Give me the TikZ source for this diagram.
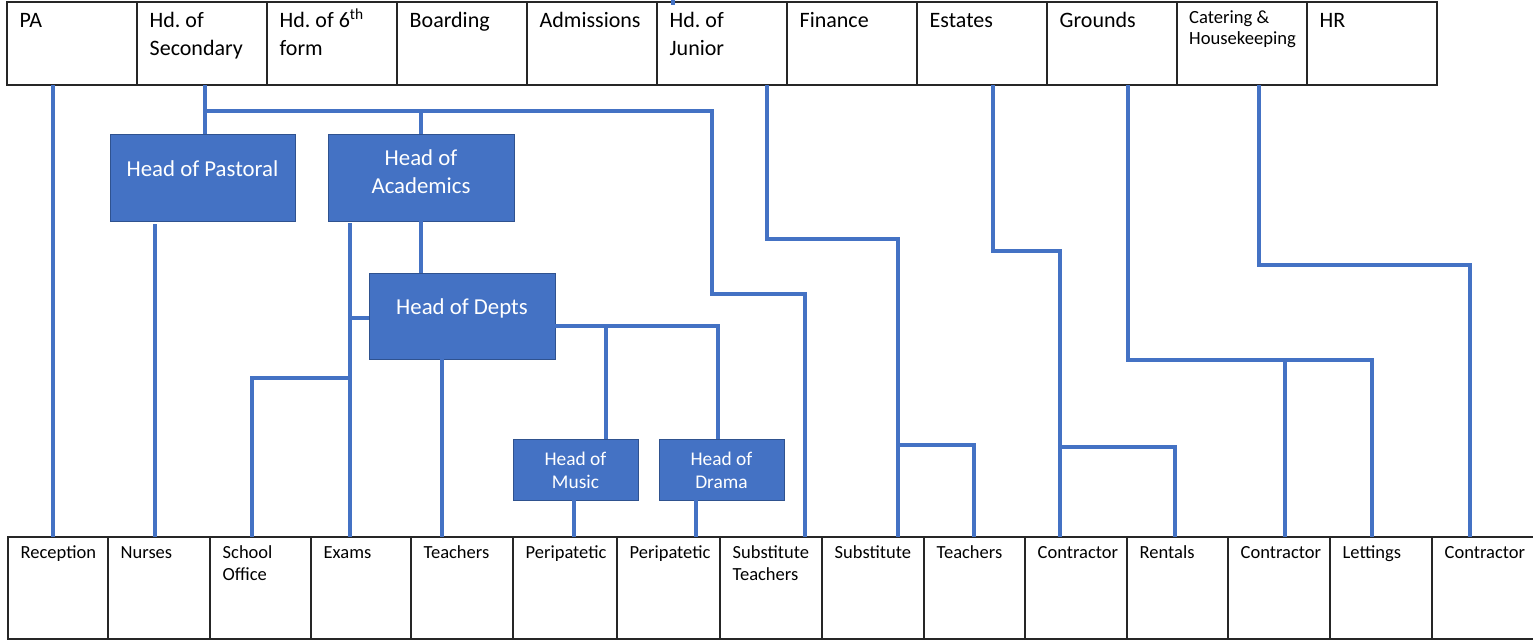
\documentclass[tikz,border=0pt]{standalone}
\usepackage{fontspec}
\setmainfont{Carlito}
\usetikzlibrary{calc}
\definecolor{ablue}{HTML}{4472C4}
\definecolor{aedge}{HTML}{2F528F}
\frenchspacing
\begin{document}
\begin{tikzpicture}[x=1pt,y=-1pt,
  topcell/.style={draw=black!85, line width=1.3pt, anchor=north west, minimum width=130pt, minimum height=83pt, inner sep=0pt, outer sep=0pt},
  botcell/.style={draw=black!85, line width=1.3pt, anchor=north west, minimum height=102pt, inner sep=0pt, outer sep=0pt},
  bluebox/.style={draw=aedge, line width=1pt, fill=ablue, anchor=north west, inner sep=0pt, outer sep=0pt},
  toptxt/.style={anchor=north west, inner sep=0pt, align=left, font=\fontsize{22}{28}\selectfont},
  cattxt/.style={anchor=north west, inner sep=0pt, align=left, font=\fontsize{18.6}{21}\selectfont},
  bottxt/.style={anchor=north west, inner sep=0pt, align=left, font=\fontsize{18.5}{22}\selectfont},
  bigtxt/.style={inner sep=0pt, align=center, text=white, font=\fontsize{22.8}{28}\selectfont},
  smalltxt/.style={anchor=north, inner sep=0pt, align=center, text=white, font=\fontsize{19.4}{23}\selectfont},
  conn/.style={draw=ablue, line width=3.8pt}]
\useasboundingbox (0,0) rectangle (1533,640);
\fill[white] (0,0) rectangle (1533,640);

% top row
\node[topcell] (pa) at (7,2) {};
\node[topcell] (sec) at (137,2) {};
\node[topcell] (six) at (267,2) {};
\node[topcell] (board) at (397,2) {};
\node[topcell] (adm) at (527,2) {};
\node[topcell] (jun) at (657,2) {};
\node[topcell] (fin) at (787,2) {};
\node[topcell] (est) at (917,2) {};
\node[topcell] (grd) at (1047,2) {};
\node[topcell] (cat) at (1177,2) {};
\node[topcell] (hr) at (1307,2) {};

\node[toptxt] (paT) at ([xshift=12.5pt,yshift=-5.4pt]pa.north west) {\strut PA};
\node[toptxt] (secT) at ([xshift=12.5pt,yshift=-5.4pt]sec.north west) {\strut Hd. of\\Secondary};
\node[toptxt] (sixT) at ([xshift=12.5pt,yshift=-5.4pt]six.north west) {\strut Hd. of 6\textsuperscript{th}\\form};
\node[toptxt] (boardT) at ([xshift=12.5pt,yshift=-5.4pt]board.north west) {\strut Boarding};
\node[toptxt] (admT) at ([xshift=12.5pt,yshift=-5.4pt]adm.north west) {\strut Admissions};
\node[toptxt] (junT) at ([xshift=12.5pt,yshift=-5.4pt]jun.north west) {\strut Hd. of\\Junior};
\node[toptxt] (finT) at ([xshift=12.5pt,yshift=-5.4pt]fin.north west) {\strut Finance};
\node[toptxt] (estT) at ([xshift=12.5pt,yshift=-5.4pt]est.north west) {\strut Estates};
\node[toptxt] (grdT) at ([xshift=12.5pt,yshift=-5.4pt]grd.north west) {\strut Grounds};
\node[cattxt] (catT) at ([xshift=12pt,yshift=-6.3pt]cat.north west) {\strut Catering \&\\Housekeeping};
\node[toptxt] (hrT) at ([xshift=12.5pt,yshift=-5.4pt]hr.north west) {\strut HR};

% bottom row
\node[botcell, minimum width=100pt] (rec) at (8,537) {};
\node[botcell, minimum width=102pt] (nurse) at (108,537) {};
\node[botcell, minimum width=101pt] (office) at (210,537) {};
\node[botcell, minimum width=100pt] (exams) at (311,537) {};
\node[botcell, minimum width=102pt] (teach) at (411,537) {};
\node[botcell, minimum width=104pt] (peri1) at (513,537) {};
\node[botcell, minimum width=103pt] (peri2) at (617,537) {};
\node[botcell, minimum width=102pt] (subT) at (720,537) {};
\node[botcell, minimum width=102pt] (subst) at (822,537) {};
\node[botcell, minimum width=101pt] (teach2) at (924,537) {};
\node[botcell, minimum width=102pt] (con1) at (1025,537) {};
\node[botcell, minimum width=101pt] (rent) at (1127,537) {};
\node[botcell, minimum width=102pt] (con2) at (1228,537) {};
\node[botcell, minimum width=102pt] (lett) at (1330,537) {};
\node[botcell, minimum width=106pt] (con3) at (1432,537) {};

\node[bottxt] (recT) at ([xshift=12.5pt,yshift=-5.6pt]rec.north west) {\strut Reception};
\node[bottxt] (nurseT) at ([xshift=12.5pt,yshift=-5.6pt]nurse.north west) {\strut Nurses};
\node[bottxt] (officeT) at ([xshift=12.5pt,yshift=-5.6pt]office.north west) {\strut School\\Office};
\node[bottxt] (examsT) at ([xshift=12.5pt,yshift=-5.6pt]exams.north west) {\strut Exams};
\node[bottxt] (teachT) at ([xshift=12.5pt,yshift=-5.6pt]teach.north west) {\strut Teachers};
\node[bottxt] (peri1T) at ([xshift=12.5pt,yshift=-5.6pt]peri1.north west) {\strut Peripatetic};
\node[bottxt] (peri2T) at ([xshift=12.5pt,yshift=-5.6pt]peri2.north west) {\strut Peripatetic};
\node[bottxt] (subTT) at ([xshift=12.5pt,yshift=-5.6pt]subT.north west) {\strut Substitute\\Teachers};
\node[bottxt] (substT) at ([xshift=12.5pt,yshift=-5.6pt]subst.north west) {\strut Substitute};
\node[bottxt] (teach2T) at ([xshift=12.5pt,yshift=-5.6pt]teach2.north west) {\strut Teachers};
\node[bottxt] (con1T) at ([xshift=12.5pt,yshift=-5.6pt]con1.north west) {\strut Contractor};
\node[bottxt] (rentT) at ([xshift=12.5pt,yshift=-5.6pt]rent.north west) {\strut Rentals};
\node[bottxt] (con2T) at ([xshift=12.5pt,yshift=-5.6pt]con2.north west) {\strut Contractor};
\node[bottxt] (lettT) at ([xshift=12.5pt,yshift=-5.6pt]lett.north west) {\strut Lettings};
\node[bottxt] (con3T) at ([xshift=12.5pt,yshift=-5.6pt]con3.north west) {\strut Contractor};

% blue boxes
\node[bluebox, minimum width=185pt, minimum height=87pt] (past) at (110,134) {};
\node[bluebox, minimum width=186pt, minimum height=87pt] (acad) at (328,134) {};
\node[bluebox, minimum width=186pt, minimum height=86pt] (depts) at (369,273) {};
\node[bluebox, minimum width=125pt, minimum height=61pt] (music) at (513,439) {};
\node[bluebox, minimum width=125pt, minimum height=61pt] (drama) at (659,439) {};

\node[bigtxt, anchor=base] (pastT) at ([yshift=1pt]past.center) {Head of Pastoral};
\node[bigtxt, anchor=north] (acadT) at ([yshift=-11.4pt]acad.north) {\strut Head of\\Academics};
\node[bigtxt, anchor=base] (deptsT) at ([yshift=2pt]depts.center) {Head of Depts};
\node[smalltxt] (musicT) at ([yshift=-10.6pt]music.north) {\strut Head of\\Music};
\node[smalltxt] (dramaT) at ([yshift=-10.6pt]drama.north) {\strut Head of\\Drama};

% connectors
\draw[conn] ([xshift=46pt]pa.south west) -- ([xshift=45pt]rec.north west);

\coordinate (jS) at (205,111);
\draw[conn] ([xshift=68pt]sec.south west) -- ([xshift=95pt]past.north west);
\draw[conn] (jS) -| (acad.north);
\draw[conn] (jS) -- (712,111) -- (712,294) -- (805,294) -- ([xshift=85pt]subT.north west);

\draw[conn] ([xshift=45pt,yshift=-3pt]past.south west) -- ([xshift=47pt]nurse.north west);
\draw[conn] (acad.south) -- (acad.south |- depts.north);
\draw[conn] ([xshift=22pt,yshift=-2pt]acad.south west) -- ([xshift=39pt]exams.north west);
\coordinate (jA) at (350,318);
\draw[conn] (jA) -- (jA -| depts.west);
\coordinate (jB) at (350,378);
\draw[conn] (jB) -| ([xshift=42pt]office.north west);

\draw[conn] ([xshift=73pt]depts.south west) -- ([xshift=31pt]teach.north west);
\coordinate (jD) at (606,326);
\draw[conn] ([yshift=-10pt]depts.east) -- (718,326) -- ([xshift=59pt]drama.north west);
\draw[conn] (jD) -- ([xshift=93pt]music.north west);
\draw[conn] ([xshift=61pt]music.south west) -- ([xshift=61pt]peri1.north west);
\draw[conn] ([xshift=37pt]drama.south west) -- ([xshift=79pt]peri2.north west);

\draw[conn] ([xshift=110pt]jun.south west) -- (767,239) -- (898,239) -- ([xshift=76pt]subst.north west);
\coordinate (jJ) at (898,445);
\draw[conn] (jJ) -| ([xshift=50pt]teach2.north west);

\draw[conn] ([xshift=76pt]est.south west) -- (993,251) -- (1060,251) -- ([xshift=35pt]con1.north west);
\coordinate (jE) at (1060,447);
\draw[conn] (jE) -| ([xshift=48pt]rent.north west);

\draw[conn] ([xshift=81pt]grd.south west) -- (1128,360) -- (1372,360) -- ([xshift=42pt]lett.north west);
\coordinate (jG) at (1285,360);
\draw[conn] (jG) -- ([xshift=57pt]con2.north west);

\draw[conn] ([xshift=82pt]cat.south west) -- (1259,265) -- (1470,265) -- ([xshift=38pt]con3.north west);

\draw[conn, line width=4pt] ([xshift=16pt,yshift=2pt]jun.north west) -- ([xshift=16pt,yshift=-3pt]jun.north west);
\end{tikzpicture}
\end{document}
